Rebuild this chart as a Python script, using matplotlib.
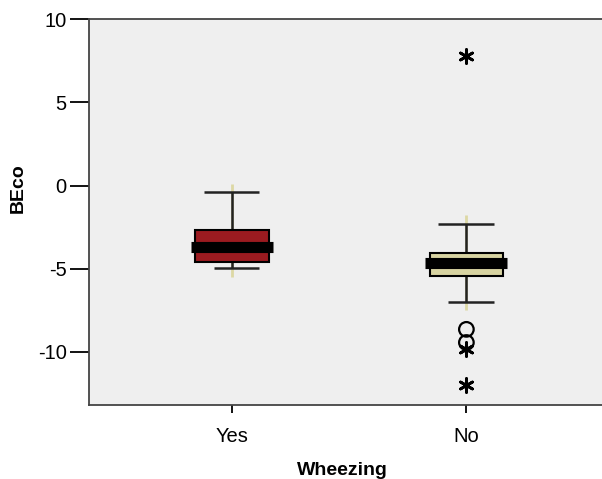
import numpy as np
import matplotlib
matplotlib.use("Agg")
import matplotlib.pyplot as plt

plt.rcParams['font.family'] = ['Liberation Sans', 'DejaVu Sans']

# data
groups = ["Yes", "No"]
whisk_lo = [-4.95, -7.0]
q1 = [-4.6, -5.44]
medians = [-3.69, -4.65]
q3 = [-2.66, -4.05]
whisk_hi = [-0.36, -2.3]
ci_lo = [-5.5, -7.5]
ci_hi = [0.1, -1.75]
out_circles = [[], [-8.64, -9.43]]
out_stars = [[], [7.8, -9.85, -11.96]]
box_colors = ["#9b1b20", "#d8d4a2"]

fig = plt.figure(figsize=(6.02, 4.79), dpi=100)
ax = fig.add_axes([0.148, 0.154, 0.86, 0.806])
ax.set_facecolor("#efefef")

pos = np.arange(1, len(groups) + 1)
bw = 0.315

# light line behind each box
ax.vlines(pos, ci_lo, ci_hi, color="#ddd8a4", lw=2, zorder=1)
# whiskers
ax.vlines(pos, whisk_lo, q1, color="#222222", lw=1.8, zorder=2)
ax.vlines(pos, q3, whisk_hi, color="#222222", lw=1.8, zorder=2)
ax.hlines(whisk_hi, pos - 0.12, pos + 0.116, color="#222222", lw=1.8, zorder=2)
ax.hlines(whisk_lo, pos - 0.078, pos + 0.116, color="#222222", lw=1.8, zorder=2)
# boxes
ax.bar(pos, np.array(q3) - np.array(q1), bottom=q1, width=bw,
       color=box_colors, edgecolor="black", linewidth=1.5, zorder=3)
# medians
ax.hlines(medians, pos - 0.175, pos + 0.175, color="black", lw=8, zorder=4)

for p, c, s in zip(pos, out_circles, out_stars):
    ax.scatter([p] * len(c), c, s=110, facecolors="none", edgecolors="black",
               linewidths=1.6, zorder=5)
    ax.scatter([p] * len(s), s, s=100, marker=(6, 2, 0), color="black",
               linewidths=2, zorder=5)

ax.set_xlim(0.388, 2.6)
ax.set_ylim(-13.2, 10)
ax.set_yticks([-10, -5, 0, 5, 10])
ax.set_yticklabels(["-10", "-5", "0", "5", "10"])
ax.set_xticks(pos)
ax.set_xticklabels(groups)
ax.tick_params(axis="y", length=14, width=1.3, labelsize=14.5, pad=2)
ax.tick_params(axis="x", length=6, width=1.3, labelsize=14.5, pad=10)
for sp in ax.spines.values():
    sp.set_color("#444444")
    sp.set_linewidth(1.3)
ax.spines["right"].set_visible(False)

ax.set_ylabel("BEco", fontsize=14, fontweight="bold")
ax.yaxis.set_label_coords(-0.137, 0.562)
ax.set_xlabel("Wheezing", fontsize=14, fontweight="bold")
ax.xaxis.set_label_coords(0.49, -0.168)
ax.xaxis.label.set_va("center")
ax.yaxis.label.set_va("center")

fig.savefig("out.png", dpi=100)
